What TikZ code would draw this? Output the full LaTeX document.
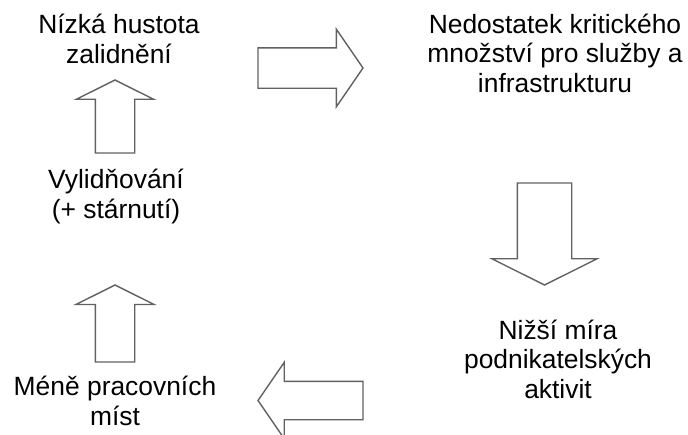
\documentclass[tikz,border=0pt]{standalone}
\usepackage{fontspec}
\setmainfont{Liberation Sans}
\usetikzlibrary{shapes.arrows}

\begin{document}
\begin{tikzpicture}[x=1pt,y=-1pt,
  textnode/.style={align=center,anchor=base,inner sep=0pt,font=\fontsize{26.4}{29.5}\selectfont},
  bigarrow/.style={single arrow,draw=black!62,line width=1.4pt,fill=white,inner xsep=0pt,outer sep=0pt,anchor=tail}]
\useasboundingbox (0,0) rectangle (688,434);

% texts of the cycle
\node[textnode] (lowdensity) at (119,63) {Nízká hustota\\zalidnění};
\node[textnode] (lackmass) at (555,92) {Nedostatek kritického\\množství pro služby a\\infrastrukturu};
\node[textnode] (lessbusiness) at (558,398) {Nižší míra\\podnikatelských\\aktivit};
\node[textnode] (fewerjobs) at (115,425) {Méně pracovních\\míst};
\node[textnode] (depopulation) at (116,218) {Vylidňování\\(+ stárnutí)};

% block arrows, placed by their tails (inner ysep = half the shaft, minimum height = length)
\node[bigarrow,minimum height=105pt,inner ysep=19.5pt,single arrow head extend=18.5pt,single arrow tip angle=111] (toright) at (258,68) {};
\node[bigarrow,rotate=-90,minimum height=102pt,inner ysep=26.5pt,single arrow head extend=25.5pt,single arrow tip angle=127] (todown) at (544.5,183) {};
\node[bigarrow,rotate=180,minimum height=105pt,inner ysep=18.5pt,single arrow head extend=19pt,single arrow tip angle=111] (toleft) at (363,400.5) {};
\node[bigarrow,rotate=90,minimum height=77pt,inner ysep=19pt,single arrow head extend=19.5pt,single arrow tip angle=127] (upbottom) at (115,362) {};
\node[bigarrow,rotate=90,minimum height=73pt,inner ysep=19pt,single arrow head extend=19pt,single arrow tip angle=127] (uptop) at (115,153) {};
\end{tikzpicture}
\end{document}
